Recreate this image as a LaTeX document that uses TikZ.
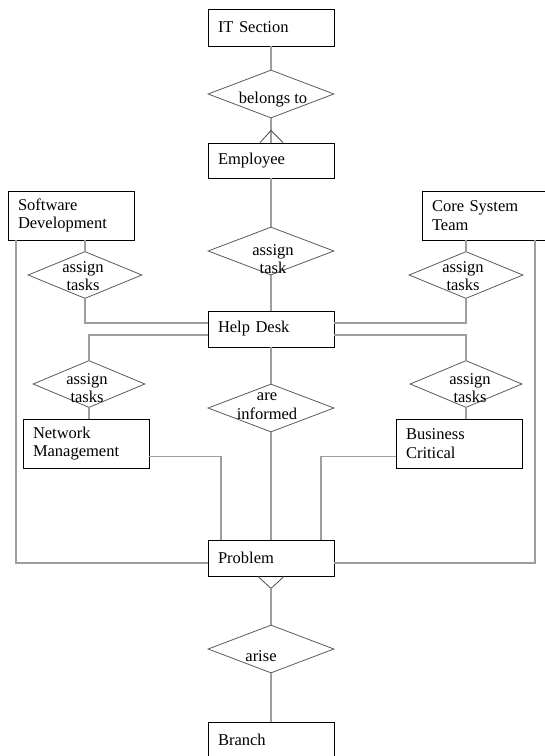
\documentclass[tikz,border=0pt]{standalone}
\usepackage{fontspec}
\setmainfont{Liberation Serif}
\usetikzlibrary{shapes}

\begin{document}
\begin{tikzpicture}[x=1pt,y=-1pt,font=\fontsize{16.5}{18.5}\selectfont]
\tikzstyle{ent}=[draw,line width=0.9pt,rectangle,minimum width=126pt,text width=106pt,inner xsep=10pt,inner ysep=0pt,align=left];
\tikzstyle{rel}=[draw=black!65,line width=0.8pt,diamond,inner sep=0pt,minimum width=126pt,minimum height=48pt];
\tikzstyle{lbl}=[align=center,inner sep=0pt];
\tikzstyle{con}=[draw=black!38,line width=1.3pt];
\clip (0,0) rectangle (545,756);
% entities
\node [ent,minimum height=37pt] (itsec) at (271,27.5) {IT Section};
\node [ent,minimum height=35pt] (emp) at (271,160.5) {Employee};
\node [ent,minimum height=36pt] (help) at (271,329) {Help Desk};
\node [ent,minimum height=49pt] (soft) at (71,215.5) {Software\\Development};
\node [ent,minimum height=49pt] (core) at (485,215.5) {Core System\\Team};
\node [ent,minimum height=49pt] (net) at (86,443.5) {Network\\Management};
\node [ent,minimum height=49pt] (bus) at (459,443.5) {Business\\Critical};
\node [ent,minimum height=36pt] (prob) at (271,558) {Problem};
\node [ent,minimum height=36pt] (branch) at (271,740) {Branch};
% relationships
\node [rel,label={[lbl,xshift=2pt,yshift=-6pt]center:belongs to}] (r1) at (271,94) {};
\node [rel,label={[lbl,xshift=2pt,yshift=-8pt]center:{assign\\task}}] (r2) at (271,251) {};
\node [rel,minimum width=114pt,minimum height=47pt,label={[lbl,xshift=-2pt,yshift=-1pt]center:{assign\\tasks}}] (r3) at (85,275) {};
\node [rel,minimum width=114pt,minimum height=47pt,label={[lbl,xshift=-3pt,yshift=-1pt]center:{assign\\tasks}}] (r4) at (466,275) {};
\node [rel,minimum width=112pt,minimum height=47pt,label={[lbl,xshift=-2pt,yshift=-4pt]center:{assign\\tasks}}] (r5) at (89,384) {};
\node [rel,minimum width=112pt,minimum height=47pt,label={[lbl,xshift=4pt,yshift=-4pt]center:{assign\\tasks}}] (r6) at (466,384) {};
\node [rel,label={[lbl,xshift=-4pt,yshift=2pt]center:{are\\informed}}] (r7) at (271,408) {};
\node [rel,label={[lbl,xshift=-10pt,yshift=-7pt]center:arise}] (r8) at (271,649) {};
% connectors
\draw [con] (itsec) -- (r1);
\draw [con] (r1) -- (emp);
\draw [draw=black!70,line width=0.8pt] ([xshift=-11pt]emp.north) -- ([yshift=12pt]emp.north) -- ([xshift=12pt]emp.north);
\draw [con] (emp) -- (r2);
\draw [con] (r2) -- (help);
\draw [con] (r3.north) -- (r3.north |- soft.south);
\draw [con] (r3.south) |- ([yshift=6pt]help.west);
\draw [con] (r4.north) -- (r4.north |- core.south);
\draw [con] (r4.south) |- ([yshift=6pt]help.east);
\draw [con] ([yshift=-6pt]help.west) -| (r5.north);
\draw [con] (r5.south) -- (r5.south |- net.north);
\draw [con] ([yshift=-6pt]help.east) -| (r6.north);
\draw [con] (r6.south) -- (r6.south |- bus.north);
\draw [con] (help) -- (r7);
\draw [con] (r7) -- (prob);
\draw [con] ([yshift=-13pt]net.east) -| ([xshift=-50pt]prob.north);
\draw [con] ([yshift=-13pt]bus.west) -| ([xshift=50pt]prob.north);
\draw [con] ([xshift=-55pt]soft.south) |- ([yshift=-5pt]prob.west);
\draw [con] ([xshift=50pt]core.south) |- ([yshift=-5pt]prob.east);
\draw [draw=black!70,line width=0.8pt] ([xshift=-13pt]prob.south) -- ([yshift=-12pt]prob.south) -- ([xshift=13pt]prob.south);
\draw [con] ([yshift=-12pt]prob.south) -- (r8);
\draw [con] (r8) -- (branch);
\end{tikzpicture}
\end{document}
